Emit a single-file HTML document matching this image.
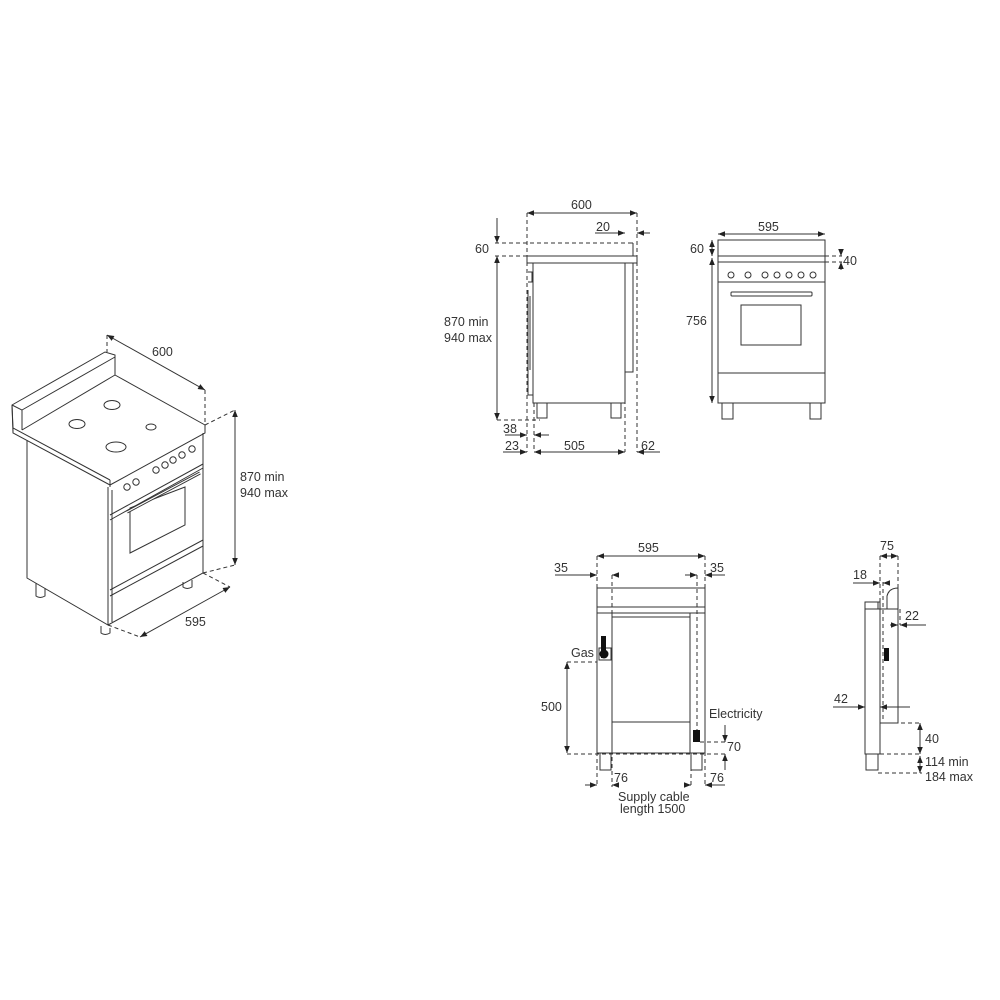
<!DOCTYPE html>
<html><head><meta charset="utf-8"><style>
html,body{margin:0;padding:0;background:#fff;width:1000px;height:1000px;overflow:hidden}
text{font-family:"Liberation Sans",sans-serif;font-size:12.5px;fill:#333}
</style></head><body>
<svg width="1000" height="1000" viewBox="0 0 1000 1000" xmlns="http://www.w3.org/2000/svg">
<defs>
<marker id="a" viewBox="0 0 10 10" refX="10" refY="5" markerWidth="7" markerHeight="7" orient="auto-start-reverse"><path d="M0,1 L10,5 L0,9z" fill="#222"/></marker>
</defs>
<g fill="none" stroke="#333" stroke-width="1">
<!-- ISO view -->
<path d="M12,405 L105,352 L115,355 L115,375 L205,425 L205,433 L110,485 L13,433 Z" fill="#fff"/>
<path d="M12,405 L13,428 L110,480 M12,405 L22,410 L22,430 M22,410 L115,357"/>
<path d="M22,430 L115,375"/>
<path d="M110,480 L110,487 M13,428 L13,433"/>
<path d="M27,440 L27,578 L108,625 L108,487 M203,433 L203,573 L108,625"/>
<path d="M112,490 L112,622 M110,520 L203,468"/>
<path d="M110,515 L203,464"/>
<path d="M110,590 L203,540 M110,596 L203,546"/>
<path d="M130,508 L185,487 L185,525 L130,553 Z"/>
<path d="M127,512 L200,473" stroke-width="3"/>
<path d="M127,512 L200,473" stroke="#fff" stroke-width="1.2"/>
<ellipse cx="112" cy="405" rx="8" ry="4.5"/>
<ellipse cx="77" cy="424" rx="8" ry="4.5"/>
<ellipse cx="151" cy="427" rx="5" ry="3"/>
<ellipse cx="116" cy="447" rx="10" ry="5"/>
<circle cx="127" cy="487" r="3.2"/><circle cx="136" cy="482" r="3.2"/>
<circle cx="156" cy="470" r="3.2"/><circle cx="165" cy="465" r="3.2"/><circle cx="173" cy="460" r="3.2"/><circle cx="182" cy="455" r="3.2"/><circle cx="192" cy="449" r="3.2"/>
<path d="M36,583 L36,596 Q40,599 45,596 L45,588"/>
<path d="M101,626 L101,633 Q105,636 110,633 L110,628"/>
<path d="M183,582 L183,587 Q187,590 192,587 L192,580"/>
<g stroke-dasharray="4,3">
<path d="M107,335 L107,352 M205,390 L205,425 M205,425 L235,410 M203,573 L235,565 M108,625 L140,637 M203,573 L230,587"/>
</g>
<path d="M107,335 L205,390" marker-start="url(#a)" marker-end="url(#a)"/>
<path d="M235,410 L235,565" marker-start="url(#a)" marker-end="url(#a)"/>
<path d="M140,637 L230,587" marker-start="url(#a)" marker-end="url(#a)"/>

<!-- SIDE VIEW -->
<rect x="527" y="256" width="110" height="7"/>
<path d="M633,243 L633,256 M630,243 L633,243"/>
<rect x="533" y="263" width="92" height="140"/>
<rect x="625" y="263" width="8" height="109"/>
<path d="M528,290 L528,395 L533,395 M530,296 L530,370 M528,272 L532,272 L532,282 L528,282"/>
<path d="M537,403 L537,418 L547,418 L547,403 M611,403 L611,418 L621,418 L621,403"/>
<g stroke-dasharray="4,3">
<path d="M527,213 L527,452 M534,403 L534,452 M625,372 L625,452 M637,213 L637,452 M495,243 L630,243 M495,256 L527,256 M497,420 L540,420"/>
</g>
<path d="M527,213 L637,213" marker-start="url(#a)" marker-end="url(#a)"/>
<path d="M595,233 L625,233" marker-end="url(#a)"/><path d="M650,233 L637,233" marker-end="url(#a)"/>
<path d="M497,218 L497,243" marker-end="url(#a)"/>
<path d="M497,256 L497,420" marker-start="url(#a)" marker-end="url(#a)"/>
<path d="M505,435 L527,435" marker-end="url(#a)"/><path d="M549,435 L534,435" marker-end="url(#a)"/>
<path d="M503,452 L527,452" marker-end="url(#a)"/>
<path d="M534,452 L625,452" marker-start="url(#a)" marker-end="url(#a)"/>
<path d="M660,452 L637,452" marker-end="url(#a)"/>

<!-- FRONT VIEW -->
<rect x="718" y="240" width="107" height="163"/>
<path d="M718,256 L825,256 M718,262 L825,262 M718,282 L825,282 M718,373 L825,373"/>
<rect x="731" y="292" width="81" height="4" rx="1"/>
<rect x="741" y="305" width="60" height="40"/>
<circle cx="731" cy="275" r="3"/><circle cx="748" cy="275" r="3"/><circle cx="765" cy="275" r="3"/><circle cx="777" cy="275" r="3"/><circle cx="789" cy="275" r="3"/><circle cx="801" cy="275" r="3"/><circle cx="813" cy="275" r="3"/>
<path d="M722,403 L722,419 L733,419 L733,403 M810,403 L810,419 L821,419 L821,403"/>
<g stroke-dasharray="4,3"><path d="M825,256 L842,256 M825,262 L842,262"/></g>
<path d="M718,234 L825,234" marker-start="url(#a)" marker-end="url(#a)"/>
<path d="M712,240 L712,256" marker-start="url(#a)" marker-end="url(#a)"/>
<path d="M712,258 L712,403" marker-start="url(#a)" marker-end="url(#a)"/>
<path d="M841,249 L841,256" marker-end="url(#a)"/><path d="M841,270 L841,262" marker-end="url(#a)"/>

<!-- BACK VIEW -->
<path d="M597,588 L705,588 M597,607 L705,607 M597,613 L705,613 M597,588 L597,753 L705,753 L705,588"/>
<path d="M612,613 L612,753 M690,613 L690,753"/>
<rect x="612" y="617" width="78" height="105"/>
<path d="M600,753 L600,770 L611,770 L611,753 M691,753 L691,770 L702,770 L702,753"/>
<rect x="599" y="648" width="12" height="12"/>
<g stroke-dasharray="4,3">
<path d="M597,556 L597,787 M705,556 L705,787 M612,575 L612,787 M697,575 L697,732 M691,753 L691,787 M567,662 L597,662 M567,754 L728,754 M700,742 L728,742"/>
</g>
<path d="M597,556 L705,556" marker-start="url(#a)" marker-end="url(#a)"/>
<path d="M555,575 L597,575" marker-end="url(#a)"/><path d="M617,575 L612,575" marker-end="url(#a)"/>
<path d="M685,575 L697,575" marker-end="url(#a)"/><path d="M725,575 L705,575" marker-end="url(#a)"/>
<path d="M567,662 L567,753" marker-start="url(#a)" marker-end="url(#a)"/>
<path d="M725,725 L725,742" marker-end="url(#a)"/><path d="M725,770 L725,754" marker-end="url(#a)"/>
<path d="M585,785 L597,785" marker-end="url(#a)"/><path d="M616,785 L612,785" marker-end="url(#a)"/>
<path d="M687,785 L691,785" marker-end="url(#a)"/><path d="M725,785 L705,785" marker-end="url(#a)"/>

<!-- RIGHT SIDE VIEW -->
<rect x="865" y="602" width="15" height="152"/>
<path d="M865,609 L898,609 M880,609 L880,723 L898,723 L898,609 M878,602 L878,609 M887,609 L887,596 Q889,588 898,588 L898,609"/>
<path d="M866,754 L866,770 L878,770 L878,754"/>
<g stroke-dasharray="4,3">
<path d="M880,556 L880,609 M898,556 L898,588 M880,723 L922,723 M880,754 L922,754 M878,773 L922,773 M883,582 L883,720 M900,609 L900,625"/>
</g>
<path d="M880,556 L898,556" marker-start="url(#a)" marker-end="url(#a)"/>
<path d="M853,583 L880,583" marker-end="url(#a)"/><path d="M890,583 L883,583" marker-end="url(#a)"/>
<path d="M890,625 L898,625" marker-end="url(#a)"/><path d="M926,625 L900,625" marker-end="url(#a)"/>
<path d="M833,707 L865,707" marker-end="url(#a)"/><path d="M910,707 L880,707" marker-end="url(#a)"/>
<path d="M920,723 L920,754" marker-start="url(#a)" marker-end="url(#a)"/>
<path d="M920,756 L920,773" marker-start="url(#a)" marker-end="url(#a)"/>
</g>
<g fill="#111">
<rect x="601" y="636" width="5" height="22"/>
<circle cx="604" cy="654" r="4.5"/>
<rect x="693" y="730" width="7" height="12"/>
<rect x="884" y="648" width="5" height="13"/>
</g>
<text x="152" y="356">600</text>
<text x="240" y="481">870 min</text>
<text x="240" y="497">940 max</text>
<text x="185" y="626">595</text>
<text x="571" y="209">600</text>
<text x="596" y="231">20</text>
<text x="475" y="253">60</text>
<text x="444" y="326">870 min</text>
<text x="444" y="342">940 max</text>
<text x="503" y="433">38</text>
<text x="505" y="450">23</text>
<text x="564" y="450">505</text>
<text x="641" y="450">62</text>
<text x="758" y="231">595</text>
<text x="690" y="253">60</text>
<text x="686" y="325">756</text>
<text x="843" y="265">40</text>
<text x="638" y="552">595</text>
<text x="554" y="572">35</text>
<text x="710" y="572">35</text>
<text x="571" y="657">Gas</text>
<text x="541" y="711">500</text>
<text x="709" y="718">Electricity</text>
<text x="727" y="751">70</text>
<text x="614" y="782">76</text>
<text x="710" y="782">76</text>
<text x="618" y="801">Supply cable</text>
<text x="620" y="813">length 1500</text>
<text x="880" y="550">75</text>
<text x="853" y="579">18</text>
<text x="905" y="620">22</text>
<text x="834" y="703">42</text>
<text x="925" y="743">40</text>
<text x="925" y="766">114 min</text>
<text x="925" y="781">184 max</text>
</svg>
</body></html>
